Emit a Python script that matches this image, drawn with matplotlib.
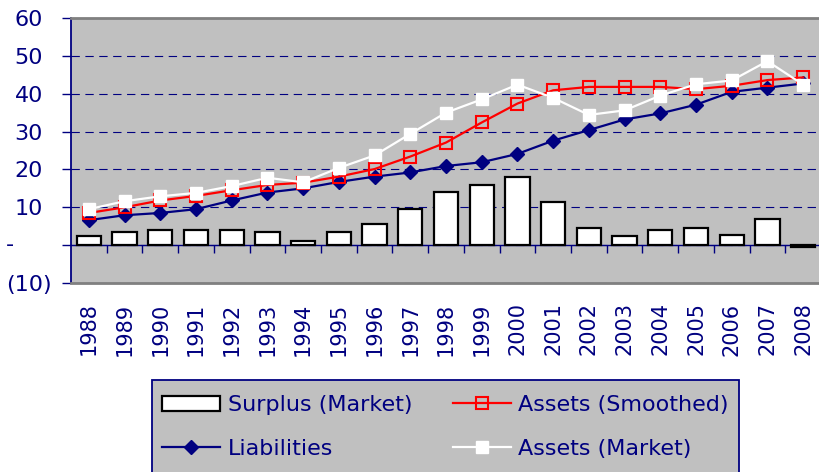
import matplotlib
matplotlib.use('Agg')
import matplotlib.pyplot as plt
import numpy as np
from matplotlib.patches import Rectangle
from matplotlib.transforms import ScaledTranslation

plt.rcParams['font.family'] = ['DejaVu Sans']

years = [str(y) for y in range(1988, 2009)]
surplus_market = [2.4, 3.5, 4.0, 4.0, 4.0, 3.4, 1.2, 3.4, 5.6, 9.6, 14.0,
                  15.8, 18.0, 11.3, 4.5, 2.3, 4.0, 4.5, 2.8, 6.8, -0.4]
liabilities = [6.6, 7.9, 8.5, 9.5, 11.8, 13.9, 15.0, 16.7, 18.1, 19.2, 20.9,
               21.9, 24.1, 27.6, 30.4, 33.2, 34.8, 37.1, 40.5, 41.6, 42.7]
assets_smoothed = [8.5, 10.0, 11.8, 13.0, 14.5, 15.9, 16.5, 18.1, 20.1, 23.4, 27.1,
                   32.4, 37.4, 40.9, 41.8, 41.8, 41.8, 41.2, 42.1, 43.6, 44.3]
assets_market = [9.5, 11.6, 12.9, 13.8, 15.6, 17.8, 16.6, 20.4, 23.7, 29.4, 35.0,
                 38.5, 42.4, 38.9, 34.4, 35.6, 39.5, 42.5, 43.5, 48.6, 42.4]
y_ticks = [-10, 0, 10, 20, 30, 40, 50, 60]
y_tick_labels = ['(10)', '-', '10', '20', '30', '40', '50', '60']

NAVY = '#000080'
BG = '#c0c0c0'
BORDER = '#808080'

W, H = 819, 472
fig = plt.figure(figsize=(W / 100, H / 100), dpi=100)
ax = fig.add_axes([71 / W, (H - 283) / H, 750 / W, 265 / H])
ax.set_facecolor(BG)

x = np.arange(len(years))
h_bar = ax.bar(x, surplus_market, width=0.68, facecolor='white', edgecolor='black',
               linewidth=1.6, zorder=3, label='Surplus (Market)')
h_liab, = ax.plot(x, liabilities, color=NAVY, lw=1.6, marker='D', ms=7,
                  mfc=NAVY, mec=NAVY, zorder=4, label='Liabilities')
h_sm, = ax.plot(x, assets_smoothed, color='red', lw=1.6, marker='s', ms=8,
                mfc='none', mec='red', mew=1.5, zorder=5, label='Assets (Smoothed)')
h_mk, = ax.plot(x, assets_market, color='white', lw=1.6, marker='s', ms=9,
                mfc='white', mec='white', zorder=6, label='Assets (Market)')

ax.set_xlim(-0.5, len(years) - 0.5)
ax.set_ylim(-10, 60)

# grid
ax.set_axisbelow(True)
ax.yaxis.grid(True, color=NAVY, linestyle=(0, (7.5, 5)), lw=0.8)
ax.xaxis.grid(False)

# x labels at bottom
ax.set_xticks(x, years)
ax.tick_params(axis='x', length=0, pad=14, labelsize=15, labelcolor=NAVY,
               labelrotation=90)

# y axis
ax.set_yticks(y_ticks, y_tick_labels)
ax.tick_params(axis='y', direction='out', length=6.5, width=1, color=NAVY,
               labelcolor=NAVY, labelsize=16, pad=24)
for lbl in ax.get_yticklabels():
    lbl.set_horizontalalignment('center')
ticks = ax.yaxis.get_major_ticks()
ticks[1].label1.set_transform(ticks[1].label1.get_transform() +
                              ScaledTranslation(-0.185, 0.02, fig.dpi_scale_trans))

# spines
for s in ['top', 'bottom', 'right']:
    ax.spines[s].set_color(BORDER)
    ax.spines[s].set_linewidth(2)
ax.spines['left'].set_color(NAVY)
ax.spines['left'].set_linewidth(1.3)

# category axis line at zero with boundary ticks
sec = ax.secondary_xaxis(10 / 70)
sec.set_xticks(np.arange(0.5, len(years) - 0.5, 1))
sec.tick_params(direction='out', length=5.5, width=1, color=NAVY, labelbottom=False)
sec.spines['bottom'].set_color(NAVY)
sec.spines['bottom'].set_linewidth(1)
sec.set_zorder(2.9)

# legend box
fig.add_artist(Rectangle((152 / W, -0.05), (739 - 152) / W, (H - 380) / H + 0.05,
                         transform=fig.transFigure, facecolor=BG, edgecolor=NAVY,
                         lw=1.3, zorder=3))
leg = fig.legend([h_bar, h_liab, h_sm, h_mk],
                 ['Surplus (Market)', 'Liabilities', 'Assets (Smoothed)', 'Assets (Market)'],
                 loc='upper left', bbox_to_anchor=(152 / W, 1 - 385 / H, 587 / W, 0),
                 mode='expand', ncol=2, frameon=False, fontsize=16, labelcolor=NAVY,
                 handlelength=2.6, handleheight=0.65, handletextpad=0.35,
                 borderpad=0.45, labelspacing=1.08, borderaxespad=0)
leg.set_zorder(4)

fig.savefig('out.png', dpi=100)
